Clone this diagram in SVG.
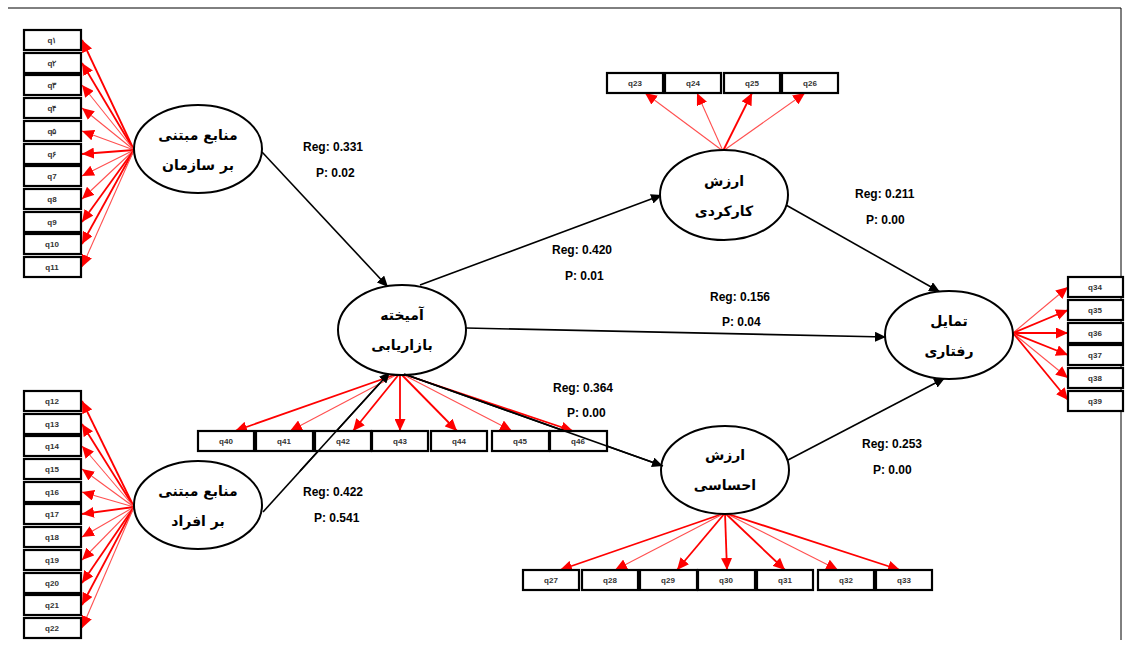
<svg xmlns="http://www.w3.org/2000/svg" width="1126" height="647" viewBox="0 0 1126 647">
<defs>
<marker id="rh" markerUnits="userSpaceOnUse" markerWidth="13" markerHeight="11" refX="12" refY="5.5" orient="auto"><path d="M0,0 L12,5.5 L0,11 z" fill="#ff0000"/></marker>
<marker id="bh" markerUnits="userSpaceOnUse" markerWidth="12" markerHeight="10" refX="11" refY="5" orient="auto"><path d="M0,0 L11,5 L0,10 z" fill="#000"/></marker>
<style>
.box{fill:#fff;stroke:#000;stroke-width:2.2}
.bt{font-family:"Liberation Sans",Arial,sans-serif;font-size:8px;font-weight:bold;fill:#333;text-anchor:middle;dominant-baseline:central}
.el{fill:#fff;stroke:#000;stroke-width:2}
.et{font-family:"DejaVu Sans","Noto Sans",sans-serif;font-size:14px;font-weight:bold;fill:#000;text-anchor:middle;dominant-baseline:central}
.lb{font-family:"Liberation Sans",Arial,sans-serif;font-size:12px;font-weight:bold;fill:#000}
.r1{stroke:#ff0000;stroke-width:1.8;fill:none;marker-end:url(#rh)}
.r2{stroke:#ff5050;stroke-width:1.1;fill:none;marker-end:url(#rh)}
.bk{stroke:#000;stroke-width:1.6;fill:none;marker-end:url(#bh)}
</style>
</defs>
<rect x="0" y="0" width="1126" height="647" fill="#fff"/>
<path d="M8,8 H1121 V640" fill="none" stroke="#000" stroke-width="1"/>

<g id="connectors">
<line class="r1" x1="134" y1="150" x2="82" y2="40"/>
<line class="r1" x1="134" y1="150" x2="82" y2="63"/>
<line class="r2" x1="134" y1="150" x2="82" y2="85"/>
<line class="r2" x1="134" y1="150" x2="82" y2="108"/>
<line class="r2" x1="134" y1="150" x2="82" y2="131"/>
<line class="r1" x1="134" y1="150" x2="82" y2="154"/>
<line class="r2" x1="134" y1="150" x2="82" y2="176"/>
<line class="r2" x1="134" y1="150" x2="82" y2="199"/>
<line class="r1" x1="134" y1="150" x2="82" y2="222"/>
<line class="r1" x1="134" y1="150" x2="82" y2="244"/>
<line class="r2" x1="134" y1="150" x2="82" y2="267"/>
<line class="r1" x1="134" y1="507" x2="82" y2="401"/>
<line class="r1" x1="134" y1="507" x2="82" y2="424"/>
<line class="r2" x1="134" y1="507" x2="82" y2="446"/>
<line class="r2" x1="134" y1="507" x2="82" y2="469"/>
<line class="r2" x1="134" y1="507" x2="82" y2="492"/>
<line class="r1" x1="134" y1="507" x2="82" y2="514"/>
<line class="r2" x1="134" y1="507" x2="82" y2="537"/>
<line class="r2" x1="134" y1="507" x2="82" y2="560"/>
<line class="r1" x1="134" y1="507" x2="82" y2="583"/>
<line class="r1" x1="134" y1="507" x2="82" y2="605"/>
<line class="r2" x1="134" y1="507" x2="82" y2="628"/>
<line class="r2" x1="723" y1="151" x2="645" y2="93"/>
<line class="r2" x1="723" y1="151" x2="697" y2="93"/>
<line class="r1" x1="723" y1="151" x2="752" y2="93"/>
<line class="r2" x1="723" y1="151" x2="805" y2="93"/>
<line class="r1" x1="400" y1="373" x2="235" y2="431"/>
<line class="r2" x1="400" y1="373" x2="290" y2="431"/>
<line class="r1" x1="400" y1="373" x2="353" y2="431"/>
<line class="r1" x1="400" y1="373" x2="400" y2="431"/>
<line class="r1" x1="400" y1="373" x2="457" y2="431"/>
<line class="r2" x1="400" y1="373" x2="512" y2="431"/>
<line class="r1" x1="400" y1="373" x2="573" y2="431"/>
<line class="r1" x1="725" y1="513" x2="560" y2="570"/>
<line class="r2" x1="725" y1="513" x2="615" y2="570"/>
<line class="r1" x1="725" y1="513" x2="677" y2="570"/>
<line class="r1" x1="725" y1="513" x2="727" y2="570"/>
<line class="r1" x1="725" y1="513" x2="785" y2="570"/>
<line class="r2" x1="725" y1="513" x2="838" y2="570"/>
<line class="r1" x1="725" y1="513" x2="900" y2="570"/>
<line class="r2" x1="1013" y1="333" x2="1068" y2="287"/>
<line class="r1" x1="1013" y1="333" x2="1068" y2="310"/>
<line class="r1" x1="1013" y1="333" x2="1068" y2="333"/>
<line class="r1" x1="1013" y1="333" x2="1068" y2="355"/>
<line class="r2" x1="1013" y1="333" x2="1068" y2="378"/>
<line class="r1" x1="1013" y1="333" x2="1068" y2="400"/>
<line class="bk" x1="262" y1="152" x2="388" y2="287"/>
<line class="bk" x1="263" y1="512" x2="390" y2="372"/>
<line class="bk" x1="420" y1="285" x2="662" y2="195"/>
<line class="bk" x1="466" y1="328" x2="886" y2="337"/>
<line class="bk" x1="404" y1="374" x2="663" y2="466"/>
<line class="bk" x1="786" y1="205" x2="940" y2="292"/>
<line class="bk" x1="788" y1="460" x2="945" y2="378"/>
</g>

<g id="labels">
<text class="lb" x="303" y="151">Reg: 0.331</text>
<text class="lb" x="316" y="177">P: 0.02</text>
<text class="lb" x="552" y="254">Reg: 0.420</text>
<text class="lb" x="565" y="280">P: 0.01</text>
<text class="lb" x="710" y="301">Reg: 0.156</text>
<text class="lb" x="722" y="326">P: 0.04</text>
<text class="lb" x="855" y="198">Reg: 0.211</text>
<text class="lb" x="866" y="224">P: 0.00</text>
<text class="lb" x="553" y="392">Reg: 0.364</text>
<text class="lb" x="567" y="417">P: 0.00</text>
<text class="lb" x="862" y="448">Reg: 0.253</text>
<text class="lb" x="873" y="474">P: 0.00</text>
<text class="lb" x="303" y="496">Reg: 0.422</text>
<text class="lb" x="314" y="522">P: 0.541</text>
</g>

<g id="n-org"><ellipse class="el" cx="198" cy="149" rx="64" ry="44"/><text class="et" x="198" y="135">منابع مبتنی</text><text class="et" x="198" y="165">بر سازمان</text></g>
<g id="n-ind"><ellipse class="el" cx="198" cy="505" rx="64" ry="44"/><text class="et" x="198" y="491">منابع مبتنی</text><text class="et" x="198" y="521">بر افراد</text></g>
<g id="n-mix"><ellipse class="el" cx="402" cy="330" rx="64" ry="45"/><text class="et" x="402" y="315">آمیخته</text><text class="et" x="402" y="345">بازاریابی</text></g>
<g id="n-func"><ellipse class="el" cx="724" cy="195" rx="64" ry="45"/><text class="et" x="724" y="181">ارزش</text><text class="et" x="724" y="211">کارکردی</text></g>
<g id="n-emo"><ellipse class="el" cx="725" cy="470" rx="64" ry="44"/><text class="et" x="725" y="455">ارزش</text><text class="et" x="725" y="485">احساسی</text></g>
<g id="n-int"><ellipse class="el" cx="949" cy="335" rx="64" ry="44"/><text class="et" x="949" y="321">تمایل</text><text class="et" x="949" y="351">رفتاری</text></g>

<g id="items-org">
<g id="q1"><rect class="box" x="24" y="30" width="57" height="20"/><text class="bt" x="52" y="40">q١</text></g>
<g id="q2"><rect class="box" x="24" y="53" width="57" height="20"/><text class="bt" x="52" y="63">q۲</text></g>
<g id="q3"><rect class="box" x="24" y="75" width="57" height="20"/><text class="bt" x="52" y="85">q۳</text></g>
<g id="q4"><rect class="box" x="24" y="98" width="57" height="20"/><text class="bt" x="52" y="108">q۴</text></g>
<g id="q5"><rect class="box" x="24" y="121" width="57" height="20"/><text class="bt" x="52" y="131">q۵</text></g>
<g id="q6"><rect class="box" x="24" y="144" width="57" height="20"/><text class="bt" x="52" y="154">q۶</text></g>
<g id="q7"><rect class="box" x="24" y="166" width="57" height="20"/><text class="bt" x="52" y="176">q7</text></g>
<g id="q8"><rect class="box" x="24" y="189" width="57" height="20"/><text class="bt" x="52" y="199">q8</text></g>
<g id="q9"><rect class="box" x="24" y="212" width="57" height="20"/><text class="bt" x="52" y="222">q9</text></g>
<g id="q10"><rect class="box" x="24" y="234" width="57" height="20"/><text class="bt" x="52" y="244">q10</text></g>
<g id="q11"><rect class="box" x="24" y="257" width="57" height="20"/><text class="bt" x="52" y="267">q11</text></g>
</g>
<g id="items-ind">
<g id="q12"><rect class="box" x="24" y="391" width="57" height="20"/><text class="bt" x="52" y="401">q12</text></g>
<g id="q13"><rect class="box" x="24" y="414" width="57" height="20"/><text class="bt" x="52" y="424">q13</text></g>
<g id="q14"><rect class="box" x="24" y="436" width="57" height="20"/><text class="bt" x="52" y="446">q14</text></g>
<g id="q15"><rect class="box" x="24" y="459" width="57" height="20"/><text class="bt" x="52" y="469">q15</text></g>
<g id="q16"><rect class="box" x="24" y="482" width="57" height="20"/><text class="bt" x="52" y="492">q16</text></g>
<g id="q17"><rect class="box" x="24" y="504" width="57" height="20"/><text class="bt" x="52" y="514">q17</text></g>
<g id="q18"><rect class="box" x="24" y="527" width="57" height="20"/><text class="bt" x="52" y="537">q18</text></g>
<g id="q19"><rect class="box" x="24" y="550" width="57" height="20"/><text class="bt" x="52" y="560">q19</text></g>
<g id="q20"><rect class="box" x="24" y="573" width="57" height="20"/><text class="bt" x="52" y="583">q20</text></g>
<g id="q21"><rect class="box" x="24" y="595" width="57" height="20"/><text class="bt" x="52" y="605">q21</text></g>
<g id="q22"><rect class="box" x="24" y="618" width="57" height="20"/><text class="bt" x="52" y="628">q22</text></g>
</g>
<g id="items-func">
<g id="q23"><rect class="box" x="607" y="73" width="56" height="20"/><text class="bt" x="635" y="83">q23</text></g>
<g id="q24"><rect class="box" x="665" y="73" width="56" height="20"/><text class="bt" x="693" y="83">q24</text></g>
<g id="q25"><rect class="box" x="724" y="73" width="56" height="20"/><text class="bt" x="752" y="83">q25</text></g>
<g id="q26"><rect class="box" x="782" y="73" width="56" height="20"/><text class="bt" x="810" y="83">q26</text></g>
</g>
<g id="items-emo">
<g id="q27"><rect class="box" x="523" y="570" width="56" height="20"/><text class="bt" x="551" y="580">q27</text></g>
<g id="q28"><rect class="box" x="582" y="570" width="56" height="20"/><text class="bt" x="610" y="580">q28</text></g>
<g id="q29"><rect class="box" x="640" y="570" width="57" height="20"/><text class="bt" x="668" y="580">q29</text></g>
<g id="q30"><rect class="box" x="698" y="570" width="57" height="20"/><text class="bt" x="726" y="580">q30</text></g>
<g id="q31"><rect class="box" x="757" y="570" width="56" height="20"/><text class="bt" x="785" y="580">q31</text></g>
<g id="q32"><rect class="box" x="818" y="570" width="56" height="20"/><text class="bt" x="846" y="580">q32</text></g>
<g id="q33"><rect class="box" x="876" y="570" width="56" height="20"/><text class="bt" x="904" y="580">q33</text></g>
</g>
<g id="items-int">
<g id="q34"><rect class="box" x="1068" y="277" width="55" height="20"/><text class="bt" x="1095" y="287">q34</text></g>
<g id="q35"><rect class="box" x="1068" y="300" width="55" height="20"/><text class="bt" x="1095" y="310">q35</text></g>
<g id="q36"><rect class="box" x="1068" y="323" width="55" height="20"/><text class="bt" x="1095" y="333">q36</text></g>
<g id="q37"><rect class="box" x="1068" y="345" width="55" height="20"/><text class="bt" x="1095" y="355">q37</text></g>
<g id="q38"><rect class="box" x="1068" y="368" width="55" height="20"/><text class="bt" x="1095" y="378">q38</text></g>
<g id="q39"><rect class="box" x="1068" y="391" width="55" height="20"/><text class="bt" x="1095" y="401">q39</text></g>
</g>
<g id="items-mix">
<g id="q40"><rect class="box" x="198" y="431" width="56" height="20"/><text class="bt" x="226" y="441">q40</text></g>
<g id="q41"><rect class="box" x="256" y="431" width="57" height="20"/><text class="bt" x="284" y="441">q41</text></g>
<g id="q42"><rect class="box" x="315" y="431" width="56" height="20"/><text class="bt" x="343" y="441">q42</text></g>
<g id="q43"><rect class="box" x="372" y="431" width="56" height="20"/><text class="bt" x="400" y="441">q43</text></g>
<g id="q44"><rect class="box" x="431" y="431" width="56" height="20"/><text class="bt" x="459" y="441">q44</text></g>
<g id="q45"><rect class="box" x="492" y="431" width="57" height="20"/><text class="bt" x="520" y="441">q45</text></g>
<g id="q46"><rect class="box" x="550" y="431" width="57" height="20"/><text class="bt" x="578" y="441">q46</text></g>
</g>
<g id="connectors-over">
<line x1="300" y1="471" x2="380" y2="383" stroke="#000" stroke-width="1.6"/>
<line x1="404" y1="374" x2="663" y2="466" stroke="#000" stroke-width="1.6"/>
</g>
</svg>
